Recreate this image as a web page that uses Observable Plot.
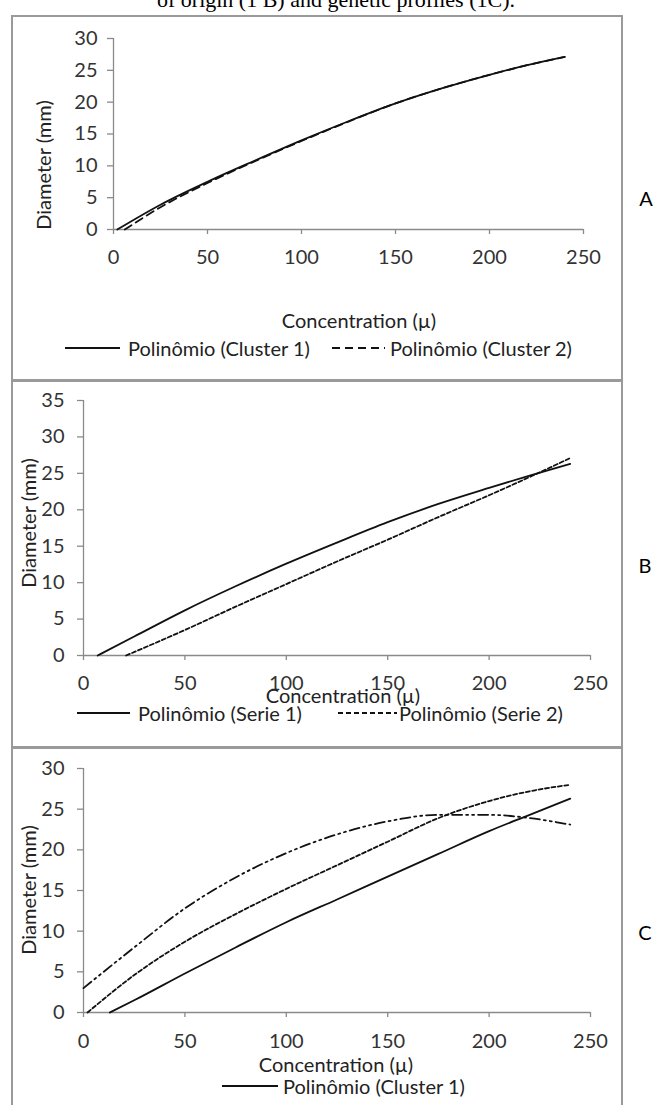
<!DOCTYPE html>
<html><head><meta charset="utf-8">
<script src="https://cdn.jsdelivr.net/npm/d3@7"></script>
<script src="https://cdn.jsdelivr.net/npm/@observablehq/plot@0.6"></script>
<style>
body{margin:0;background:#fff}
#wrap{position:relative;width:654px;height:1105px;overflow:hidden;background:#fff}
#wrap svg{position:absolute;left:0}
</style>
</head><body><div id="wrap"></div>
<script>
// ---- data ----
const xTicks = [0, 50, 100, 150, 200, 250];
const yTicksA = [0, 5, 10, 15, 20, 25, 30];
const yTicksB = [0, 5, 10, 15, 20, 25, 30, 35];
const yTicksC = [0, 5, 10, 15, 20, 25, 30];

// Panel A
const concA1 = [2, 25, 50, 75, 100, 125, 150, 175, 200, 220, 240];
const diamA1 = [0, 3.9, 7.5, 10.8, 14.0, 17.0, 19.8, 22.2, 24.3, 25.8, 27.1];
const concA2 = [6, 25, 50, 75, 100, 125, 150, 175, 200, 220, 240];
const diamA2 = [0, 3.5, 7.3, 10.7, 13.9, 16.95, 19.8, 22.2, 24.3, 25.8, 27.1];
// Panel B
const concB1 = [7, 25, 50, 75, 100, 125, 150, 175, 200, 220, 240];
const diamB1 = [0, 2.6, 6.2, 9.5, 12.6, 15.5, 18.3, 20.8, 23.0, 24.7, 26.3];
const concB2 = [21, 50, 75, 100, 125, 150, 175, 200, 220, 240];
const diamB2 = [0, 3.5, 6.7, 9.8, 12.9, 15.9, 19.0, 22.0, 24.5, 27.1];
// Panel C
const concC1 = [13, 25, 50, 75, 100, 125, 150, 175, 200, 220, 240];
const diamC1 = [0, 1.5, 4.8, 8.0, 11.1, 13.9, 16.7, 19.5, 22.3, 24.3, 26.3];
const concC2 = [2, 25, 50, 75, 100, 125, 150, 175, 200, 220, 240];
const diamC2 = [0, 4.6, 8.7, 12.1, 15.2, 18.1, 21.0, 23.9, 26.0, 27.2, 28.0];
const concC3 = [0, 25, 50, 75, 100, 125, 150, 175, 200, 220, 240];
const diamC3 = [3.0, 8.0, 12.8, 16.6, 19.6, 21.9, 23.5, 24.3, 24.3, 23.9, 23.1];

const FONT = "Lato, 'Open Sans', sans-serif";
const FS = 20;
const AXIS = "#8a8a8a";
const TXT = "#333";
const wrap = document.getElementById("wrap");

function panel(o) {
  const marks = [
    Plot.ruleY([0], {x1: 0, x2: 250, stroke: AXIS, strokeWidth: 1.3}),
    Plot.ruleX([0], {y1: 0, y2: o.ymax, stroke: AXIS, strokeWidth: 1.3}),
    Plot.axisX({ticks: xTicks, tickSize: 5, tickPadding: o.xpad, stroke: AXIS, fill: TXT, label: null, fontSize: FS, strokeWidth: 1.3}),
    Plot.axisY({ticks: o.yticks, tickSize: 6, tickPadding: o.ypad, stroke: AXIS, fill: TXT, label: null, fontSize: FS, strokeWidth: 1.3})
  ];
  for (const s of o.series) {
    marks.push(Plot.line(d3.zip(s.x, s.y), {
      x: d => d[0], y: d => d[1], stroke: "#111", strokeWidth: 1.8,
      strokeDasharray: s.dash, curve: "monotone-x"
    }));
  }
  const svg = Plot.plot({
    width: 654, height: o.height,
    marginTop: o.mt, marginBottom: o.mb, marginLeft: o.ml, marginRight: o.mr,
    x: {domain: [0, 250]},
    y: {domain: [0, o.ymax]},
    style: {background: "transparent", fontFamily: FONT, fontSize: FS + "px", color: TXT},
    marks
  });
  svg.style.top = o.top + "px";
  wrap.appendChild(svg);
}

panel({top: 0, height: 380, mt: 38, mb: 151, ml: 113, mr: 71, ymax: 30, yticks: yTicksA, xpad: 15, ypad: 10,
  series: [{x: concA2, y: diamA2, dash: "8,5"}, {x: concA1, y: diamA1, dash: null}]});
panel({top: 380, height: 367, mt: 20, mb: 92, ml: 83, mr: 64, ymax: 35, yticks: yTicksB, xpad: 15, ypad: 13,
  series: [{x: concB2, y: diamB2, dash: "4,2.5"}, {x: concB1, y: diamB1, dash: null}]});
panel({top: 747, height: 358, mt: 21, mb: 93, ml: 83, mr: 64, ymax: 30, yticks: yTicksC, xpad: 16, ypad: 13,
  series: [{x: concC3, y: diamC3, dash: "10,4,2,4,2,4"}, {x: concC2, y: diamC2, dash: "4,2.5"}, {x: concC1, y: diamC1, dash: null}]});

// ---- overlay: frames, titles, legends ----
const ov = d3.select(wrap).append("svg").attr("width", 654).attr("height", 1105).style("top", "0px");
const BORDER = "#9a9a9a";
[[16, 381], [380, 748], [747, 1120]].forEach(([t, b]) => {
  ov.append("rect").attr("x", 12).attr("y", t).attr("width", 610).attr("height", b - t)
    .attr("fill", "none").attr("stroke", BORDER).attr("stroke-width", 2);
});
ov.append("text").attr("x", 336).attr("y", 7).attr("text-anchor", "middle")
  .attr("font-family", "'Liberation Serif', 'Times New Roman', serif").attr("font-size", 22).attr("fill", "#000")
  .text("of origin (1 B) and genetic profiles (1C).");

function txt(x, y, s, opts = {}) {
  const t = ov.append("text").attr("x", x).attr("y", y).attr("dominant-baseline", "central")
    .attr("font-family", FONT).attr("font-size", opts.size || FS).attr("fill", opts.fill || "#222")
    .attr("text-anchor", opts.anchor || "start").text(s);
  if (opts.rotate) t.attr("transform", `rotate(-90 ${x} ${y})`);
  return t;
}
function legLine(x1, x2, y, dash) {
  ov.append("line").attr("x1", x1).attr("x2", x2).attr("y1", y).attr("y2", y)
    .attr("stroke", "#111").attr("stroke-width", 2).attr("stroke-dasharray", dash || null);
}
// Panel A
txt(43, 165, "Diameter (mm)", {anchor: "middle", rotate: true});
txt(359, 320, "Concentration (µ)", {anchor: "middle"});
legLine(65, 120, 348); txt(128, 348, "Polinômio (Cluster 1)");
legLine(332, 385, 348, "8,5"); txt(390, 348, "Polinômio (Cluster 2)");
txt(646, 198, "A", {anchor: "middle", fill: "#000"});
// Panel B
txt(28, 523, "Diameter (mm)", {anchor: "middle", rotate: true});
txt(343, 695, "Concentration (µ)", {anchor: "middle"});
legLine(77, 130, 713); txt(138, 713, "Polinômio (Serie 1)");
legLine(338, 397, 713, "5,3"); txt(399, 713, "Polinômio (Serie 2)");
txt(645, 565, "B", {anchor: "middle", fill: "#000"});
// Panel C
txt(28, 890, "Diameter (mm)", {anchor: "middle", rotate: true});
txt(336, 1064, "Concentration (µ)", {anchor: "middle"});
legLine(222, 278, 1086); txt(283, 1086, "Polinômio (Cluster 1)");
txt(645, 932, "C", {anchor: "middle", fill: "#000"});
</script>
</body></html>
